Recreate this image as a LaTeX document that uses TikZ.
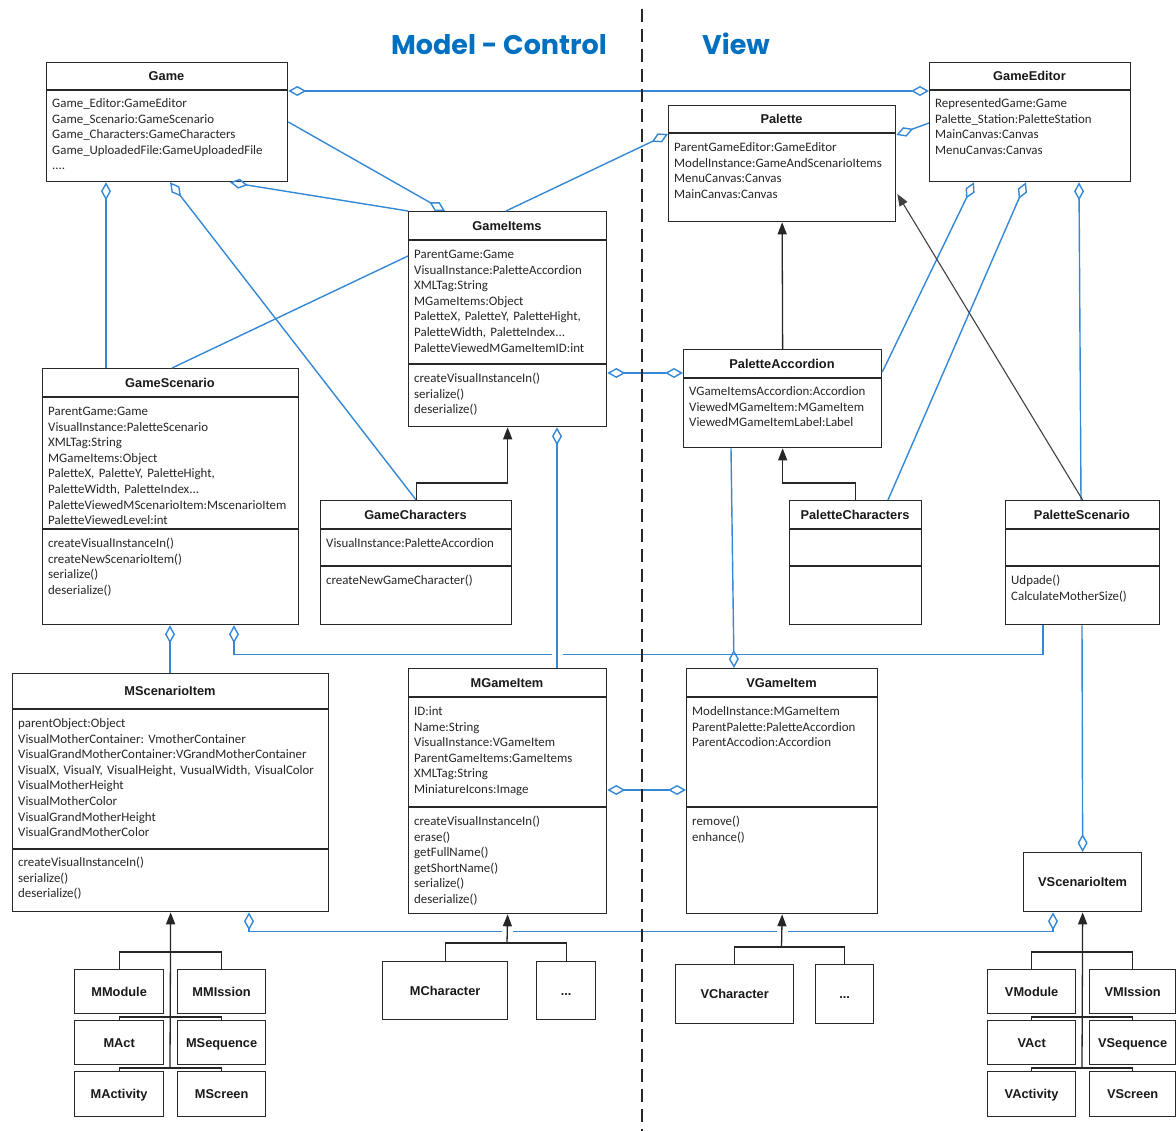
\documentclass[tikz,border=0pt]{standalone}
\usepackage{fontspec}
\setmainfont{Carlito}
\newfontfamily\hfont{Liberation Sans}
\newfontfamily\tfont{Poppins}
\usetikzlibrary{arrows.meta,calc}
\definecolor{bluec}{RGB}{52,136,214}
\definecolor{titc}{RGB}{0,112,192}
\definecolor{boxc}{RGB}{40,40,40}
\definecolor{txtc}{RGB}{38,38,38}
\tikzset{
  dm/.tip={Diamond[open,length=18pt,width=10pt]},
  tri/.tip={Triangle[length=12pt,width=9pt]},
}
\newcommand\ubox[7]{%
  \node[box, minimum width={#4-#2}, minimum height={#5-#3}] (#1) at (#2,#3) {};
  \node[hd] (#1-t) at ({(#2+#4)/2},{#7+4.6}) {#6};
}
\newcommand\udiv[3]{\draw[divline] (#1,#3) -- (#2,#3);}
\newcommand\usmall[6]{%
  \node[smallbox, minimum width={#4-#2}, minimum height={#5-#3}] (#1) at (#2,#3) {#6};
}
\begin{document}
\begin{tikzpicture}[x=1pt,y=-1pt,
  box/.style={draw=boxc, fill=white, line width=1.3pt, inner sep=0pt, anchor=north west},
  hd/.style={font=\hfont\bfseries\fontsize{12.8}{15}\selectfont, text=black!90, inner sep=0pt, anchor=base},
  smallbox/.style={box, font=\hfont\bfseries\fontsize{12.8}{15}\selectfont, text=black!90, text height=9.2pt, text depth=0pt},
  txt/.style={font=\fontsize{12.9}{15.6}\selectfont\frenchspacing, text=txtc, align=left, text width=320pt, inner sep=0pt, anchor=base west},
  divline/.style={draw=boxc, line width=1.3pt},
  agg/.style={draw=bluec, line width=1.4pt},
  gen/.style={draw=black!85, line width=1.3pt},
  genthin/.style={draw=black!75, line width=1.1pt},
  hopgap/.style={draw=white, line width=3.5pt},
  ttl/.style={font=\tfont\bfseries\fontsize{27}{30}\selectfont, text=titc, inner sep=0pt},
  sepline/.style={draw=black!85, line width=1.3pt, dash pattern=on 13pt off 7pt}
]
\useasboundingbox (0,0) rectangle (1176,1131);

% ---------------- classes ----------------
\ubox{game}{46}{62}{287}{181}{Game}{76}
\udiv{46}{287}{90}
\node[txt] (game-a) at (52,107.5) {Game\_Editor:GameEditor\\Game\_Scenario:GameScenario\\Game\_Characters:GameCharacters\\Game\_UploadedFile:GameUploadedFile\\....};

\ubox{gedit}{929}{62}{1130}{181}{GameEditor}{76}
\udiv{929}{1130}{90}
\node[txt] (gedit-a) at (935,107.5) {RepresentedGame:Game\\Palette\_Station:PaletteStation\\MainCanvas:Canvas\\MenuCanvas:Canvas};

\ubox{palette}{668}{105}{895}{221}{Palette}{119}
\udiv{668}{895}{133}
\node[txt] (palette-a) at (674,151.5) {ParentGameEditor:GameEditor\\ModelInstance:GameAndScenarioItems\\MenuCanvas:Canvas\\MainCanvas:Canvas};

\ubox{gitems}{408}{211}{606}{426}{GameItems}{225.5}
\udiv{408}{606}{240}
\udiv{408}{606}{364}
\node[txt] (gitems-a) at (414,258.5) {ParentGame:Game\\VisualInstance:PaletteAccordion\\XMLTag:String\\MGameItems:Object\\PaletteX, PaletteY, PaletteHight,\\PaletteWidth, PaletteIndex...\\PaletteViewedMGameItemID:int};
\node[txt] (gitems-m) at (414,382.5) {createVisualInstanceIn()\\serialize()\\deserialize()};

\ubox{gscen}{42}{368}{298}{624}{GameScenario}{382.5}
\udiv{42}{298}{397}
\udiv{42}{298}{529}
\node[txt] (gscen-a) at (48,415.5) {ParentGame:Game\\VisualInstance:PaletteScenario\\XMLTag:String\\MGameItems:Object\\PaletteX, PaletteY, PaletteHight,\\PaletteWidth, PaletteIndex...\\PaletteViewedMScenarioItem:MscenarioItem\\PaletteViewedLevel:int};
\node[txt] (gscen-m) at (48,547.5) {createVisualInstanceIn()\\createNewScenarioItem()\\serialize()\\deserialize()};

\ubox{gchar}{320}{500}{511}{624}{GameCharacters}{514.5}
\udiv{320}{511}{529}
\udiv{320}{511}{566}
\node[txt] (gchar-a) at (326,547.5) {VisualInstance:PaletteAccordion};
\node[txt] (gchar-m) at (326,584.5) {createNewGameCharacter()};

\ubox{pacc}{683}{349}{881}{447}{PaletteAccordion}{363.5}
\udiv{683}{881}{378}
\node[txt] (pacc-a) at (689,395.5) {VGameItemsAccordion:Accordion\\ViewedMGameItem:MGameItem\\ViewedMGameItemLabel:Label};

\ubox{pchar}{789}{500}{921}{624}{PaletteCharacters}{514.5}
\udiv{789}{921}{529}
\udiv{789}{921}{566}

\ubox{pscen}{1005}{500}{1159}{624}{PaletteScenario}{514.5}
\udiv{1005}{1159}{529}
\udiv{1005}{1159}{566}
\node[txt] (pscen-m) at (1011,584.5) {Udpade()\\CalculateMotherSize()};

\ubox{mscen}{12}{673}{328}{911}{MScenarioItem}{691}
\udiv{12}{328}{709}
\udiv{12}{328}{849}
\node[txt] (mscen-a) at (18,727.5) {parentObject:Object\\VisualMotherContainer: VmotherContainer\\VisualGrandMotherContainer:VGrandMotherContainer\\VisualX, VisualY, VisualHeight, VusualWidth, VisualColor\\VisualMotherHeight\\VisualMotherColor\\VisualGrandMotherHeight\\VisualGrandMotherColor};
\node[txt] (mscen-m) at (18,866.5) {createVisualInstanceIn()\\serialize()\\deserialize()};

\ubox{mgame}{408}{668}{606}{913}{MGameItem}{682.5}
\udiv{408}{606}{697}
\udiv{408}{606}{807}
\node[txt] (mgame-a) at (414,715.5) {ID:int\\Name:String\\VisualInstance:VGameItem\\ParentGameItems:GameItems\\XMLTag:String\\MiniatureIcons:Image};
\node[txt] (mgame-m) at (414,825.5) {createVisualInstanceIn()\\erase()\\getFullName()\\getShortName()\\serialize()\\deserialize()};

\ubox{vgame}{686}{668}{877}{913}{VGameItem}{682.5}
\udiv{686}{877}{697}
\udiv{686}{877}{807}
\node[txt] (vgame-a) at (692,715.5) {ModelInstance:MGameItem\\ParentPalette:PaletteAccordion\\ParentAccodion:Accordion};
\node[txt] (vgame-m) at (692,825.5) {remove()\\enhance()};

\usmall{vscen}{1023}{852}{1141}{911}{VScenarioItem}

% small subclasses
\usmall{mmod}{74}{969}{163}{1013}{MModule}
\usmall{mmis}{177}{969}{265}{1013}{MMIssion}
\usmall{mact}{74}{1020}{163}{1064}{MAct}
\usmall{mseq}{177}{1020}{265}{1064}{MSequence}
\usmall{mactv}{74}{1071}{163}{1116}{MActivity}
\usmall{mscr}{177}{1071}{265}{1116}{MScreen}
\usmall{mchar}{382}{961}{507}{1019}{MCharacter}
\usmall{mdots}{536}{961}{595}{1019}{...}
\usmall{vchar}{675}{964}{793}{1023}{VCharacter}
\usmall{vdots}{815}{964}{873}{1023}{...}
\usmall{vmod}{987}{969}{1075}{1013}{VModule}
\usmall{vmis}{1089}{969}{1175}{1013}{VMIssion}
\usmall{vact}{987}{1020}{1075}{1064}{VAct}
\usmall{vseq}{1089}{1020}{1175}{1064}{VSequence}
\usmall{vactv}{987}{1071}{1075}{1116}{VActivity}
\usmall{vscr}{1089}{1071}{1175}{1116}{VScreen}

% ---------------- aggregations ----------------
\draw[agg, dm-dm] ($(game.north east)+(0,29)$) -- ($(gedit.north west)+(0,29)$);
\draw[agg, -dm] ($(game.north east)+(0,60)$) -- ($(gitems.north west)+(37,0)$);
\draw[agg, dm-] ($(game.south west)+(184,0)$) -- (gitems.north west);
\draw[agg, dm-] ($(game.south west)+(60,0)$) -- ($(gscen.north west)+(64,0)$);
\draw[agg, dm-] ($(game.south west)+(124,0)$) -- (gchar.north);
\draw[agg] ($(gitems.north west)+(0,45)$) -- ($(gscen.north west)+(130,0)$);
\draw[agg, -dm] ($(gitems.north west)+(98,0)$) -- ($(palette.north west)+(0,29)$);
\draw[agg, dm-dm] ($(gitems.north east)+(0,162)$) -- ($(pacc.north west)+(0,24)$);
\draw[agg, dm-] ($(palette.north east)+(0,30)$) -- ($(gedit.north west)+(0,61)$);
\draw[agg, dm-] ($(gedit.south west)+(45,0)$) -- ($(pacc.north east)+(0,23)$);
\draw[agg, dm-] ($(gedit.south west)+(97,0)$) -- ($(pchar.north west)+(99,0)$);
\draw[agg, dm-] ($(gedit.south west)+(150,0)$) -- ($(pscen.north west)+(76,0)$);
\draw[agg, dm-] ($(gscen.south west)+(128,0)$) -- ($(mscen.north west)+(158,0)$);
\draw[agg, dm-] ($(gscen.south west)+(192,0)$) -- ++(0,29) -| ($(pscen.south west)+(38,0)$);
\draw[agg, -dm] ($(pacc.south west)+(48,0)$) -- ($(vgame.north west)+(48,0)$);
\draw[agg, -dm] ($(pscen.south west)+(77,0)$) -- (vscen.north);
\draw[agg, dm-dm] ($(mgame.north east)+(0,122)$) -- ($(vgame.north west)+(0,122)$);
\draw[agg, dm-dm] ($(mscen.south west)+(237,0)$) -- ++(0,19) -| ($(vscen.south west)+(30,0)$);
% line jumps
\draw[hopgap] (551.5,653) -- (562.5,653);
\draw[agg, dm-] ($(gitems.south west)+(149,0)$) -- ($(mgame.north west)+(149,0)$);
\draw[hopgap] (501.5,930) -- (512.5,930);
\draw[hopgap] (776.5,930) -- (787.5,930);

% ---------------- generalizations ----------------
\draw[gen, -tri] (gchar.north) -- ++(0,-17) -| (gitems.south);
\draw[gen, -tri] (pchar.north) -- ++(0,-17) -| (pacc.south);
\draw[gen, -tri] (pacc.north) -- (palette.south);
\draw[genthin, -tri] (pscen.north) -- ($(palette.north east)+(1,89)$);

\coordinate (mtr) at (170,1068);
\draw[gen] (mmod.north) -- ++(0,-17) -| (mmis.north);
\draw[gen] (mact.north) -- ++(0,-3) -| (mseq.north);
\draw[gen] (mactv.north) -- ++(0,-3) -| (mscr.north);
\draw[gen, -tri] (mtr) -- (mscen.south);

\coordinate (mgj) at (507,943);
\draw[gen] (mchar.north) -- ++(0,-18) -| (mdots.north);
\draw[gen, -tri] (mgj) -- (mgame.south);

\coordinate (vgj) at (781.5,947);
\draw[gen] (vchar.north) -- ++(0,-17) -| (vdots.north);
\draw[gen, -tri] (vgj) -- (vgame.south);

\coordinate (vtr) at (1082,1068);
\draw[gen] (vmod.north) -- ++(0,-17) -| (vmis.north);
\draw[gen] (vact.north) -- ++(0,-3) -| (vseq.north);
\draw[gen] (vactv.north) -- ++(0,-3) -| (vscr.north);
\draw[gen, -tri] (vtr) -- (vscen.south);

% ---------------- separator and titles ----------------
\coordinate (septop) at (642,9);
\coordinate (sepbot) at (642,1131);
\draw[sepline] (septop) -- (sepbot);
\node[ttl] (tmc) at (499,45) {Model - Control};
\node[ttl] (tview) at (736,44) {View};
\end{tikzpicture}
\end{document}
